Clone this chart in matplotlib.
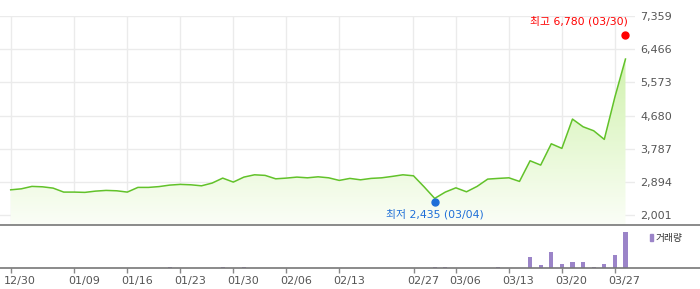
import matplotlib.pyplot as plt
import numpy as np
from matplotlib.colors import LinearSegmentedColormap
from matplotlib.patches import Patch
from matplotlib.transforms import ScaledTranslation

plt.rcParams["font.family"] = ["DejaVu Sans", "Noto Sans CJK KR"]

# trading days shown on the chart
dates = [
    "12/30", "01/02", "01/03", "01/06", "01/07", "01/08", "01/09",
    "01/10", "01/13", "01/14", "01/15", "01/16",
    "01/17", "01/20", "01/21", "01/22", "01/23",
    "01/24", "01/27", "01/28", "01/29", "01/30",
    "01/31", "02/03", "02/04", "02/05", "02/06",
    "02/07", "02/10", "02/11", "02/12", "02/13",
    "02/14", "02/17", "02/18", "02/19", "02/20", "02/21", "02/27",
    "03/03", "03/04", "03/05", "03/06",
    "03/09", "03/10", "03/11", "03/12", "03/13",
    "03/16", "03/17", "03/18", "03/19", "03/20",
    "03/23", "03/24", "03/25", "03/26", "03/27",
    "03/30",
]
close = [
    2686, 2713, 2778, 2767, 2732, 2625, 2625,
    2617, 2651, 2670, 2660, 2625,
    2751, 2751, 2773, 2813, 2832,
    2821, 2794, 2867, 3001, 2894,
    3028, 3090, 3074, 2982, 3001,
    3028, 3009, 3036, 3009, 2939,
    2993, 2955, 2993, 3009, 3047, 3090, 3063,
    2767, 2455, 2625, 2740,
    2633, 2778, 2974, 2993, 3009,
    2912, 3467, 3351, 3924, 3800,
    4588, 4381, 4274, 4042, 5180,
    6202,
]
volume = [0] * len(dates)
for d, v in {"01/22": 16, "01/29": 16, "01/31": 16, "03/04": 18, "03/05": 18,
             "03/12": 18, "03/17": 113, "03/18": 33, "03/19": 163, "03/20": 43,
             "03/23": 63, "03/24": 63, "03/25": 18, "03/26": 43, "03/27": 137,
             "03/30": 363}.items():
    volume[dates.index(d)] = v

tick_labels = ["12/30", "01/09", "01/16", "01/23", "01/30", "02/06", "02/13",
               "02/27", "03/06", "03/13", "03/20", "03/27"]
y_ticks = [2001, 2894, 3787, 4680, 5573, 6466, 7359]
hi_date, hi_value = "03/30", 6780
lo_date, lo_value = "03/04", 2435

x = np.arange(len(dates))
tick_pos = [dates.index(t) for t in tick_labels]

fig = plt.figure(figsize=(7.0, 2.89), dpi=100)
ax = fig.add_axes([0.0, 0.2204, 0.9071, 0.7242])
axv = fig.add_axes([0.0, 0.0716, 1.0, 0.1488])

x_lo = -1.01
ax.set_xlim(x_lo, x_lo + 635 / 10.6)
axv.set_xlim(x_lo, x_lo + 700 / 10.6)
ax.set_ylim(1732, 7359)

# grid
for t in tick_pos:
    ax.axvline(t, color="#ebebeb", lw=1, zorder=0)
for v in y_ticks:
    ax.axhline(v, color="#ebebeb", lw=1, zorder=0)

# price line + gradient fill
poly = ax.fill_between(x, close, 1732, color="none", lw=0)
cmap = LinearSegmentedColormap.from_list("g", ["#fbfef7", "#c6ef9c"])
grad = np.linspace(0, 1, 256).reshape(-1, 1)
img = ax.imshow(grad, cmap=cmap, aspect="auto", origin="lower",
                extent=[x_lo, x_lo + 635 / 10.6, 1732, 7359], zorder=1)
img.set_clip_path(poly.get_paths()[0], transform=ax.transData)
ax.plot(x, close, color="#62c22a", lw=1.1, zorder=3)

# high / low markers, nudged a few pixels away from the line
up = ax.transData + ScaledTranslation(0, 3 / 100, fig.dpi_scale_trans)
down = ax.transData + ScaledTranslation(0, -3 / 100, fig.dpi_scale_trans)
hi_i = dates.index(hi_date)
lo_i = dates.index(lo_date)
ax.plot([hi_i], [hi_value], "o", color="#ff0000", ms=5, transform=up, zorder=4, clip_on=False)
ax.plot([lo_i], [lo_value], "o", color="#1f6fd8", ms=5, transform=down, zorder=4)
ax.annotate(f"최고 {hi_value:,} ({hi_date})", (hi_i, hi_value), xytext=(1.6, 11.7),
            textcoords="offset points", ha="right", va="center", color="#ff0000", fontsize=7.8)
ax.annotate(f"최저 {lo_value:,} ({lo_date})", (lo_i, lo_value), xytext=(0, -10.8),
            textcoords="offset points", ha="center", va="center", color="#1f6fd8", fontsize=7.8)

ax.set_xticks([])
ax.set_yticks(y_ticks)
ax.set_yticklabels([f"{v:,}" for v in y_ticks])
ax.yaxis.tick_right()
ax.tick_params(axis="y", length=0, pad=3.6, labelsize=8, labelcolor="#555555")
for s in ax.spines.values():
    s.set_visible(False)

# volume panel
axv.bar(x, volume, width=0.38, color="#9b84c8", zorder=2)
axv.set_ylim(0, max(volume) * 1.19)
axv.set_yticks([])
axv.set_xticks(tick_pos)
axv.set_xticklabels(tick_labels)
axv.tick_params(axis="x", length=3.5, width=1, color="#888888", pad=2, labelsize=8, labelcolor="#555555")
offset = ScaledTranslation(9.5 / 100, 0, fig.dpi_scale_trans)
for lbl in axv.get_xticklabels():
    lbl.set_transform(lbl.get_transform() + offset)
for side in ["left", "right"]:
    axv.spines[side].set_visible(False)
for side in ["top", "bottom"]:
    axv.spines[side].set_color("#777777")
    axv.spines[side].set_linewidth(1.2)
axv.legend(handles=[Patch(color="#9b84c8")], labels=["거래량"], loc="upper right",
           bbox_to_anchor=(683 / 700, 0.82), frameon=False, fontsize=7,
           handlelength=0.34, handleheight=0.8, handletextpad=0.3,
           borderpad=0, borderaxespad=0, labelcolor="#333333")

fig.savefig("out.png", dpi=100)
